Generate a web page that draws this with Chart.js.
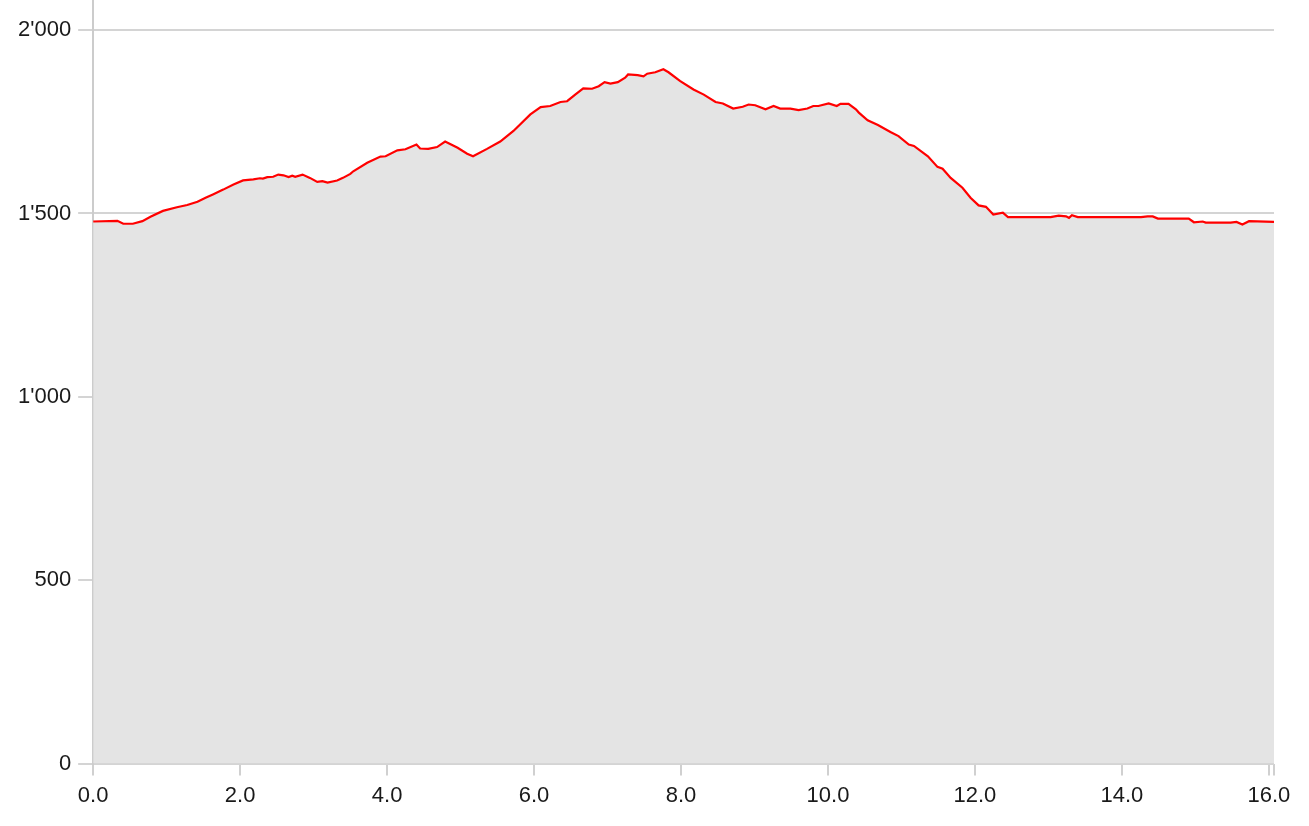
<!DOCTYPE html>
<html>
<head>
<meta charset="utf-8">
<script src="https://cdn.jsdelivr.net/npm/chart.js@4/dist/chart.umd.min.js"></script>
<style>
    html, body { margin: 0; padding: 0; background: #fff; }
    #wrap { width: 1309px; height: 826px; }
</style>
</head>
<body>
<div id="wrap"><canvas id="profil"></canvas></div>
<script>
// distance en km, altitude en m
var distance = [0.00, 0.33, 0.41, 0.54, 0.67, 0.78, 0.95, 1.14, 1.28, 1.42, 1.53, 1.63, 1.77, 1.91,
    2.04, 2.18, 2.27, 2.31, 2.37, 2.45, 2.52, 2.59, 2.66, 2.71, 2.75, 2.85, 2.95, 3.05, 3.12, 3.19,
    3.32, 3.40, 3.50, 3.54, 3.73, 3.91, 3.98, 4.14, 4.25, 4.40, 4.45, 4.56, 4.68, 4.79, 4.96, 5.09,
    5.17, 5.36, 5.54, 5.72, 5.95, 6.09, 6.22, 6.36, 6.45, 6.56, 6.67, 6.79, 6.88, 6.96, 7.04, 7.14,
    7.24, 7.28, 7.41, 7.49, 7.54, 7.65, 7.76, 7.83, 7.99, 8.17, 8.31, 8.47, 8.57, 8.71, 8.84, 8.92,
    9.01, 9.15, 9.26, 9.35, 9.49, 9.60, 9.72, 9.80, 9.87, 10.01, 10.12, 10.17, 10.28, 10.38, 10.42,
    10.54, 10.68, 10.85, 10.96, 11.10, 11.17, 11.36, 11.49, 11.56, 11.67, 11.83, 11.94, 12.05, 12.15,
    12.25, 12.38, 12.45, 13.03, 13.14, 13.24, 13.28, 13.32, 13.40, 14.26, 14.35, 14.42, 14.49, 14.91,
    14.98, 15.10, 15.14, 15.48, 15.56, 15.64, 15.73, 16.07];
var altitude = [1478, 1480, 1472, 1472, 1479, 1491, 1507, 1517, 1523, 1532, 1543, 1552, 1565, 1579,
    1590, 1593, 1596, 1595, 1599, 1600, 1606, 1604, 1599, 1603, 1600, 1606, 1597, 1586, 1588, 1584,
    1590, 1597, 1608, 1615, 1638, 1655, 1656, 1672, 1675, 1688, 1677, 1676, 1681, 1696, 1679, 1663,
    1656, 1676, 1696, 1725, 1770, 1790, 1793, 1804, 1806, 1824, 1841, 1840, 1847, 1858, 1854, 1858,
    1870, 1879, 1877, 1874, 1881, 1885, 1893, 1885, 1861, 1838, 1824, 1804, 1800, 1786, 1791, 1797,
    1795, 1784, 1793, 1786, 1786, 1782, 1786, 1793, 1793, 1800, 1793, 1799, 1799, 1784, 1775,
    1754, 1741, 1722, 1711, 1688, 1684, 1656, 1627, 1622, 1597, 1570, 1543, 1522, 1518,
    1497, 1502, 1490, 1490, 1494, 1492, 1488, 1495, 1490, 1490, 1492, 1492, 1486, 1486,
    1476, 1478, 1475, 1475, 1477, 1470, 1479, 1477];
var yTicks = [0, 500, 1000, 1500, 2000];
var xTicks = [0, 2, 4, 6, 8, 10, 12, 14, 16];

var points = [];
for (var i = 0; i < distance.length; i++) {
    points.push({ x: distance[i], y: altitude[i] });
}

function milliers(v) {
    return String(v).replace(/\B(?=(\d{3})+(?!\d))/g, "'");
}

var police = { family: "'Liberation Sans', Arial, sans-serif", size: 22 };

new Chart(document.getElementById("profil"), {
    type: 'line',
    data: {
        datasets: [{
            label: "Altitude",
            data: points,
            borderColor: "#ff0000",
            borderWidth: 2.2,
            backgroundColor: "#e4e4e4",
            fill: 'origin',
            pointRadius: 0,
            tension: 0
        }]
    },
    options: {
        responsive: true,
        maintainAspectRatio: false,
        animation: false,
        layout: { padding: { left: 11, right: 35, top: 0, bottom: 10 } },
        plugins: { legend: { display: false }, tooltip: { enabled: false } },
        scales: {
            x: {
                type: 'linear',
                min: 0,
                max: distance[distance.length - 1],
                afterBuildTicks: function (scale) {
                    var t = xTicks.map(function (v) { return { value: v }; });
                    t.push({ value: scale.max });
                    scale.ticks = t;
                },
                ticks: {
                    autoSkip: false,
                    maxRotation: 0,
                    padding: 7,
                    color: "#1a1a1a",
                    font: police,
                    callback: function (v) {
                        return xTicks.indexOf(v) >= 0 ? v.toFixed(1) : '';
                    }
                },
                grid: { drawOnChartArea: false, tickLength: 12, color: "#d0d0d0", lineWidth: 2 },
                border: { display: false }
            },
            y: {
                min: 0,
                max: 2082,
                afterBuildTicks: function (scale) {
                    scale.ticks = yTicks.map(function (v) { return { value: v }; });
                },
                afterFit: function (scale) {
                    scale.paddingTop = 0;
                },
                ticks: {
                    padding: 7,
                    color: "#1a1a1a",
                    font: police,
                    callback: function (v) { return milliers(v); }
                },
                grid: { tickLength: 15, color: "#d4d4d4", lineWidth: 2 },
                border: { color: "#cccccc", width: 2 }
            }
        }
    }
});
</script>
</body>
</html>
